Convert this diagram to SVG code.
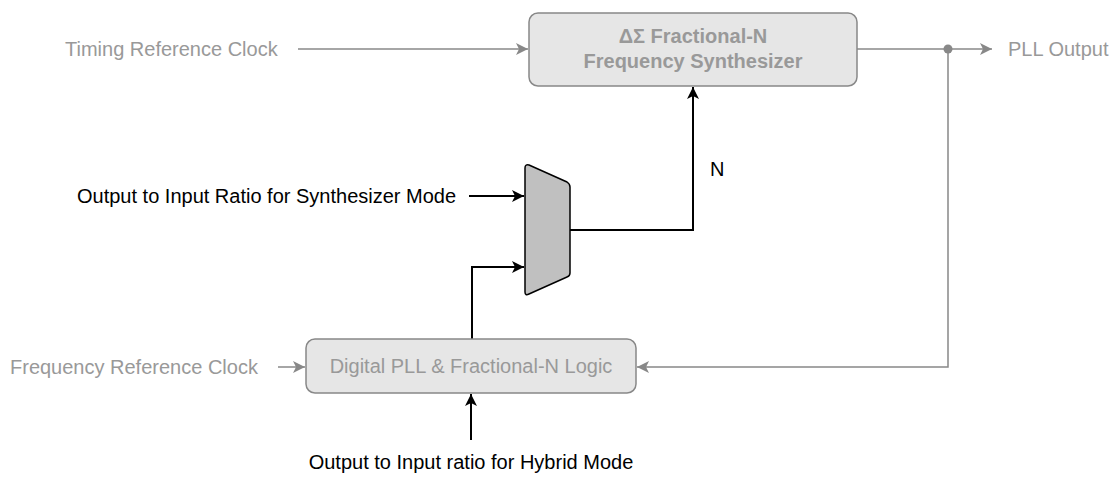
<svg xmlns="http://www.w3.org/2000/svg" width="1115" height="477" viewBox="0 0 1115 477">
<style>
text{font-family:"Liberation Sans",Arial,sans-serif;font-size:20px}
.g{fill:#999999}
.k{fill:#000000}
.b{font-weight:bold}
.box{fill:#e6e6e6;stroke:#888888;stroke-width:1.5}
.gl{fill:none;stroke:#888888;stroke-width:1.5}
.kl{fill:none;stroke:#000000;stroke-width:2}
</style>
<defs>
<marker id="ag" markerUnits="userSpaceOnUse" markerWidth="14" markerHeight="12" refX="12" refY="6" orient="auto"><path d="M0,0 L12,6 L0,12 L3,6 Z" fill="#888888"/></marker>
<marker id="ak" markerUnits="userSpaceOnUse" markerWidth="14" markerHeight="12" refX="12" refY="6" orient="auto"><path d="M0,0 L12,6 L0,12 L3,6 Z" fill="#000000"/></marker>
</defs>
<g id="connectors">
<line class="gl" x1="298" y1="49" x2="528" y2="49" marker-end="url(#ag)"/>
<line class="gl" x1="857" y1="49" x2="992" y2="49" marker-end="url(#ag)"/>
<circle cx="948" cy="49" r="4.5" fill="#888888"/>
<polyline class="gl" points="948,49 948,367 637,367" marker-end="url(#ag)"/>
<line class="gl" x1="278" y1="367" x2="305" y2="367" marker-end="url(#ag)"/>
<polyline class="kl" points="570,230 693,230 693,87" marker-end="url(#ak)"/>
<line class="kl" x1="469" y1="196" x2="524" y2="196" marker-end="url(#ak)"/>
<polyline class="kl" points="472,339 472,267 524,267" marker-end="url(#ak)"/>
<line class="kl" x1="471" y1="440" x2="471" y2="394" marker-end="url(#ak)"/>
</g>
<g id="synth">
<rect class="box" x="529" y="13" width="328" height="73" rx="9"/>
<text class="g b" x="693" y="43" text-anchor="middle">ΔΣ Fractional-N</text>
<text class="g b" x="693" y="68" text-anchor="middle">Frequency Synthesizer</text>
</g>
<g id="dpll">
<rect class="box" x="306" y="339" width="330" height="54" rx="9"/>
<text class="g" x="471" y="373" text-anchor="middle">Digital PLL &amp; Fractional-N Logic</text>
</g>
<g id="mux">
<path d="M529,165 L567,182 Q570,184 570,187 L570,273 Q570,276 567,277 L529,294 Q525,296 525,292 L525,168 Q525,164 529,165 Z" fill="#c0c0c0" stroke="#000000" stroke-width="1.5"/>
</g>
<g id="labels">
<text class="g" x="65" y="56">Timing Reference Clock</text>
<text class="g" x="1008" y="56">PLL Output</text>
<text class="g" x="10" y="374">Frequency Reference Clock</text>
<text class="k" x="77" y="203">Output to Input Ratio for Synthesizer Mode</text>
<text class="k" x="710" y="176">N</text>
<text class="k" x="471" y="469" text-anchor="middle">Output to Input ratio for Hybrid Mode</text>
</g>
</svg>
